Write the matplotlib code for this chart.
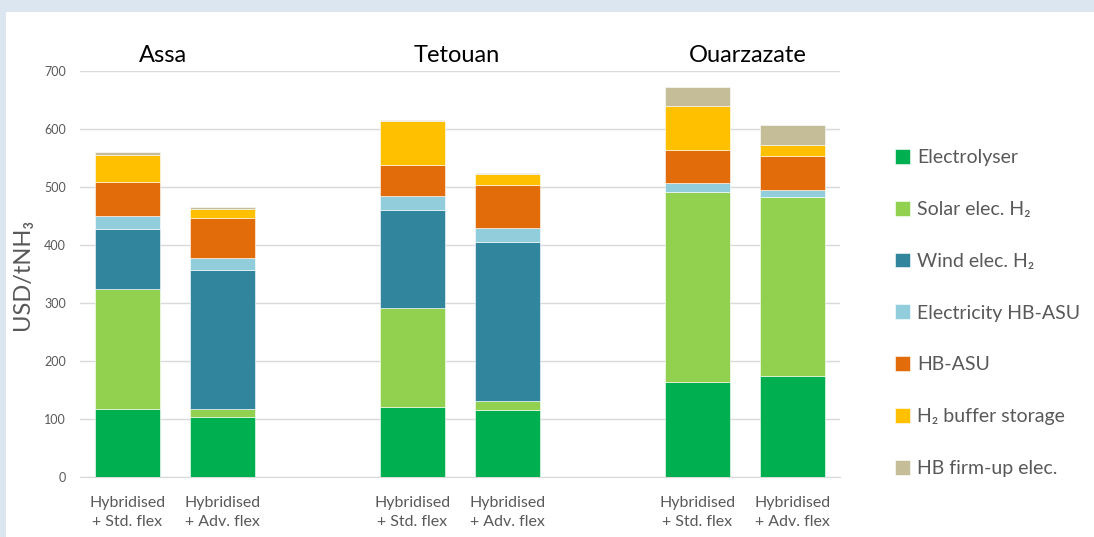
import matplotlib
matplotlib.use("Agg")
import matplotlib.pyplot as plt
from matplotlib.patches import Rectangle
import numpy as np

plt.rcParams['font.family'] = ['Lato', 'DejaVu Sans']

sites = ["Assa", "Tetouan", "Ouarzazate"]
cases = ["Hybridised\n+ Std. flex", "Hybridised\n+ Adv. flex"]
components = ["Electrolyser", "Solar elec. H\u2082", "Wind elec. H\u2082",
              "Electricity HB-ASU", "HB-ASU", "H\u2082 buffer storage",
              "HB firm-up elec."]
colors = ["#00b050", "#92d050", "#31859c", "#92cddc", "#e36c0a", "#ffc000", "#c4bd97"]

# order of bars: Assa std, Assa adv, Tetouan std, Tetouan adv, Ouarzazate std, Ouarzazate adv
electrolyser = [118, 104, 120, 115, 163, 174]
solar = [207, 13, 172, 16, 329, 308]
wind = [103, 240, 168, 274, 0, 0]
elec_hbasu = [22, 21, 25, 25, 15, 12]
hbasu = [58, 69, 53, 74, 56, 59]
buffer_st = [48, 15, 75, 18, 77, 19]
firmup = [5, 3, 3, 2, 33, 35]

series = [electrolyser, solar, wind, elec_hbasu, hbasu, buffer_st, firmup]
yticks = [0, 100, 200, 300, 400, 500, 600, 700]

fig = plt.figure(figsize=(10.94, 5.37), dpi=100)
fig.patch.set_facecolor("#dce6f1")
bg = Rectangle((6 / 1094, 0), 1, 1 - 12 / 537, transform=fig.transFigure,
               facecolor="white", edgecolor="none", zorder=-10)
fig.patches.append(bg)

ax = fig.add_axes([80 / 1094, 1 - 477 / 537, 760 / 1094, 406 / 537])
ax.set_zorder(5)
ax.set_facecolor("none")

pos = np.array([0, 1, 3, 4, 6, 7])
bottom = np.zeros(len(pos))
for vals, col, name in zip(series, colors, components):
    v = np.array(vals, dtype=float)
    ax.bar(pos, v, width=0.685, bottom=bottom, color=col, edgecolor="white",
           linewidth=0.4, label=name, zorder=3)
    bottom += v

ax.set_xlim(-0.5, 7.5)
ax.set_ylim(0, 700)
ax.set_yticks(yticks)
ax.set_yticklabels([str(t) for t in yticks], fontsize=9, color="#595959")
ax.yaxis.grid(True, color="#d9d9d9", linewidth=1, zorder=0)
ax.set_axisbelow(True)
for s in ["top", "right", "left"]:
    ax.spines[s].set_visible(False)
ax.spines["bottom"].set_color("#d9d9d9")
ax.tick_params(axis="both", length=0)
ax.tick_params(axis="y", pad=10)
ax.tick_params(axis="x", pad=14)
ax.set_xticks(pos)
ax.set_xticklabels(cases * 3, fontsize=11.5, color="#595959", linespacing=1.4)

ax.set_ylabel("USD/tNH\u2083", fontsize=17, color="#595959", labelpad=8)

title_x = [0.37, 3.47, 6.53]
for s, x in zip(sites, title_x):
    ax.text(x, 1.037, s, transform=ax.get_xaxis_transform(), ha="center", va="center",
            fontsize=17, color="black")

handles, labels = ax.get_legend_handles_labels()
leg = fig.legend(handles, labels, loc="center left", bbox_to_anchor=(877 / 1094, 1 - 313 / 537),
                 frameon=False, fontsize=14, labelcolor="#595959", handlelength=0.8,
                 handleheight=0.8, handletextpad=0.35, labelspacing=1.78)
leg.set_zorder(6)

fig.savefig("out.png", dpi=100, facecolor=fig.get_facecolor())
